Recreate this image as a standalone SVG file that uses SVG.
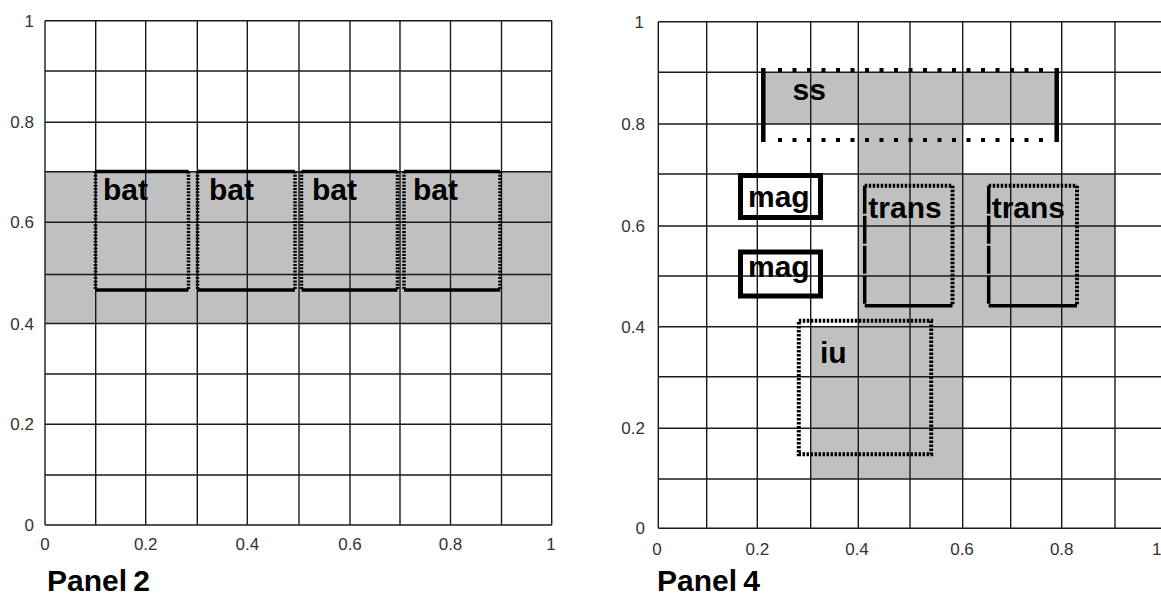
<svg xmlns="http://www.w3.org/2000/svg" width="1161" height="598" viewBox="0 0 1161 598">
<style>
.bg{fill:#fff}
.gray{fill:#c0c0c0}
.grid line{stroke:#1a1a1a;stroke-width:1.4}
.tick{font-family:"Liberation Sans",Arial,sans-serif;font-size:17px;fill:#333}
.lbl{font-family:"Liberation Sans",Arial,sans-serif;font-size:30px;font-weight:bold;fill:#000}
.panel{font-family:"Liberation Sans",Arial,sans-serif;font-size:30px;font-weight:bold;fill:#000;word-spacing:-2px}
.solid{stroke:#000;fill:none;stroke-width:3.5}
.dash{stroke:#000;fill:none;stroke-width:3.5;stroke-dasharray:2 1.3}
.dot{stroke:#000;fill:none;stroke-width:4;stroke-dasharray:2.5 1.5}
.ssdot{stroke:#000;fill:none;stroke-width:4;stroke-dasharray:4 10.5}
.thick{stroke:#000;fill:none;stroke-width:4.5}
</style>
<rect class="bg" x="0" y="0" width="1161" height="598"/>

<!-- Panel 2 -->
<g id="panel2">
  <rect class="gray" x="45" y="171.7" width="506.7" height="151.8"/>
  <g class="grid">
    <line x1="45" y1="20.7" x2="45" y2="525"/>
    <line x1="95.7" y1="20.7" x2="95.7" y2="525"/>
    <line x1="145.7" y1="20.7" x2="145.7" y2="525"/>
    <line x1="197.3" y1="20.7" x2="197.3" y2="525"/>
    <line x1="247.3" y1="20.7" x2="247.3" y2="525"/>
    <line x1="299" y1="20.7" x2="299" y2="525"/>
    <line x1="350" y1="20.7" x2="350" y2="525"/>
    <line x1="400" y1="20.7" x2="400" y2="525"/>
    <line x1="450.5" y1="20.7" x2="450.5" y2="525"/>
    <line x1="501.5" y1="20.7" x2="501.5" y2="525"/>
    <line x1="551.7" y1="20.7" x2="551.7" y2="525"/>
    <line x1="45" y1="20.7" x2="551.7" y2="20.7"/>
    <line x1="45" y1="71" x2="551.7" y2="71"/>
    <line x1="45" y1="122.3" x2="551.7" y2="122.3"/>
    <line x1="45" y1="171.7" x2="551.7" y2="171.7"/>
    <line x1="45" y1="222.3" x2="551.7" y2="222.3"/>
    <line x1="45" y1="274.5" x2="551.7" y2="274.5"/>
    <line x1="45" y1="323.5" x2="551.7" y2="323.5"/>
    <line x1="45" y1="374" x2="551.7" y2="374"/>
    <line x1="45" y1="424.3" x2="551.7" y2="424.3"/>
    <line x1="45" y1="475" x2="551.7" y2="475"/>
    <line x1="45" y1="525" x2="551.7" y2="525"/>
  </g>
  <g class="tick" text-anchor="end">
    <text x="34" y="26.5">1</text>
    <text x="34" y="128.3">0.8</text>
    <text x="34" y="228.3">0.6</text>
    <text x="34" y="329.5">0.4</text>
    <text x="34" y="430.3">0.2</text>
    <text x="34" y="531">0</text>
  </g>
  <g class="tick" text-anchor="middle">
    <text x="45" y="550">0</text>
    <text x="145.7" y="550">0.2</text>
    <text x="247.3" y="550">0.4</text>
    <text x="350" y="550">0.6</text>
    <text x="450.5" y="550">0.8</text>
    <text x="551" y="550">1</text>
  </g>
  <text class="panel" x="47" y="591">Panel 2</text>
</g>

<g id="bat1">
  <line class="solid" x1="95.5" y1="171.5" x2="188.5" y2="171.5"/>
  <line class="solid" x1="95.5" y1="290" x2="188.5" y2="290"/>
  <line class="dash" x1="95.5" y1="171.5" x2="95.5" y2="290"/>
  <line class="dash" x1="188.5" y1="171.5" x2="188.5" y2="290"/>
  <text class="lbl" x="103" y="200">bat</text>
</g>
<g id="bat2">
  <line class="solid" x1="197.5" y1="171.5" x2="295" y2="171.5"/>
  <line class="solid" x1="197.5" y1="290" x2="295" y2="290"/>
  <line class="dash" x1="197.5" y1="171.5" x2="197.5" y2="290"/>
  <line class="dash" x1="295" y1="171.5" x2="295" y2="290"/>
  <text class="lbl" x="209" y="200">bat</text>
</g>
<g id="bat3">
  <line class="solid" x1="301.5" y1="171.5" x2="397.5" y2="171.5"/>
  <line class="solid" x1="301.5" y1="290" x2="397.5" y2="290"/>
  <line class="dash" x1="301.5" y1="171.5" x2="301.5" y2="290"/>
  <line class="dash" x1="397.5" y1="171.5" x2="397.5" y2="290"/>
  <text class="lbl" x="312" y="200">bat</text>
</g>
<g id="bat4">
  <line class="solid" x1="404" y1="171.5" x2="500" y2="171.5"/>
  <line class="solid" x1="404" y1="290" x2="500" y2="290"/>
  <line class="dash" x1="404" y1="171.5" x2="404" y2="290"/>
  <line class="dash" x1="500" y1="171.5" x2="500" y2="290"/>
  <text class="lbl" x="413" y="200">bat</text>
</g>

<!-- Panel 4 -->
<g id="panel4">
  <rect class="gray" x="763" y="72.3" width="294" height="51.7"/>
  <rect class="gray" x="858.3" y="124" width="104.4" height="202.7"/>
  <rect class="gray" x="858.3" y="174" width="256.7" height="152.7"/>
  <rect class="gray" x="810.7" y="326.7" width="152" height="152.3"/>
  <g class="grid">
    <line x1="658.3" y1="21.7" x2="658.3" y2="528.3"/>
    <line x1="706.7" y1="21.7" x2="706.7" y2="528.3"/>
    <line x1="757.3" y1="21.7" x2="757.3" y2="528.3"/>
    <line x1="810.7" y1="21.7" x2="810.7" y2="528.3"/>
    <line x1="858.3" y1="21.7" x2="858.3" y2="528.3"/>
    <line x1="910" y1="21.7" x2="910" y2="528.3"/>
    <line x1="962.7" y1="21.7" x2="962.7" y2="528.3"/>
    <line x1="1010.7" y1="21.7" x2="1010.7" y2="528.3"/>
    <line x1="1061.7" y1="21.7" x2="1061.7" y2="528.3"/>
    <line x1="1115" y1="21.7" x2="1115" y2="528.3"/>
    <line x1="658.3" y1="21.7" x2="1165" y2="21.7"/>
    <line x1="658.3" y1="72.3" x2="1165" y2="72.3"/>
    <line x1="658.3" y1="124" x2="1165" y2="124"/>
    <line x1="658.3" y1="174" x2="1165" y2="174"/>
    <line x1="658.3" y1="226" x2="1165" y2="226"/>
    <line x1="658.3" y1="276" x2="1165" y2="276"/>
    <line x1="658.3" y1="326.7" x2="1165" y2="326.7"/>
    <line x1="658.3" y1="376.7" x2="1165" y2="376.7"/>
    <line x1="658.3" y1="428.3" x2="1165" y2="428.3"/>
    <line x1="658.3" y1="479" x2="1165" y2="479"/>
    <line x1="658.3" y1="528.3" x2="1165" y2="528.3"/>
  </g>
  <g class="tick" text-anchor="end">
    <text x="644" y="27.7">1</text>
    <text x="645" y="130">0.8</text>
    <text x="645" y="232">0.6</text>
    <text x="645" y="332.7">0.4</text>
    <text x="645" y="434.3">0.2</text>
    <text x="645" y="534.3">0</text>
  </g>
  <g class="tick" text-anchor="middle">
    <text x="657" y="555">0</text>
    <text x="757.3" y="555">0.2</text>
    <text x="857" y="555">0.4</text>
    <text x="962" y="555">0.6</text>
    <text x="1061.7" y="555">0.8</text>
  </g>
  <text class="tick" x="1152" y="555">1</text>
  <text class="panel" x="657" y="591">Panel 4</text>
</g>

<g id="ss">
  <line class="thick" x1="763.3" y1="68" x2="763.3" y2="142"/>
  <line class="thick" x1="1056.7" y1="68" x2="1056.7" y2="142"/>
  <line class="ssdot" x1="778" y1="70" x2="1045" y2="70"/>
  <line class="ssdot" x1="778" y1="140" x2="1045" y2="140"/>
  <text class="lbl" x="792.5" y="100">ss</text>
</g>
<g id="mag1">
  <rect x="740.5" y="175.5" width="80" height="42" fill="none" stroke="#000" stroke-width="5"/>
  <text class="lbl" x="748" y="207">mag</text>
</g>
<g id="mag2">
  <rect x="740.5" y="252" width="80" height="44" fill="none" stroke="#000" stroke-width="5"/>
  <text class="lbl" x="748" y="277">mag</text>
</g>
<g id="trans1">
  <line class="dot" x1="864.7" y1="185.8" x2="952.5" y2="185.8"/>
  <line class="solid" x1="864.7" y1="305.8" x2="952.5" y2="305.8"/>
  <line class="solid" x1="864.7" y1="185.8" x2="864.7" y2="305.8" stroke-dasharray="28 2"/>
  <line class="dot" x1="952.5" y1="185.8" x2="952.5" y2="305.8"/>
  <text class="lbl" x="868.3" y="218.3">trans</text>
</g>
<g id="trans2">
  <line class="dot" x1="988.7" y1="185.8" x2="1077" y2="185.8"/>
  <line class="solid" x1="988.7" y1="305.8" x2="1077" y2="305.8"/>
  <line class="solid" x1="988.7" y1="185.8" x2="988.7" y2="305.8" stroke-dasharray="28 2"/>
  <line class="dot" x1="1077" y1="185.8" x2="1077" y2="305.8"/>
  <text class="lbl" x="991.7" y="218.3">trans</text>
</g>
<g id="iu">
  <rect class="dot" x="798.8" y="320.8" width="132.4" height="133.4"/>
  <text class="lbl" x="820" y="363">iu</text>
</g>
</svg>
